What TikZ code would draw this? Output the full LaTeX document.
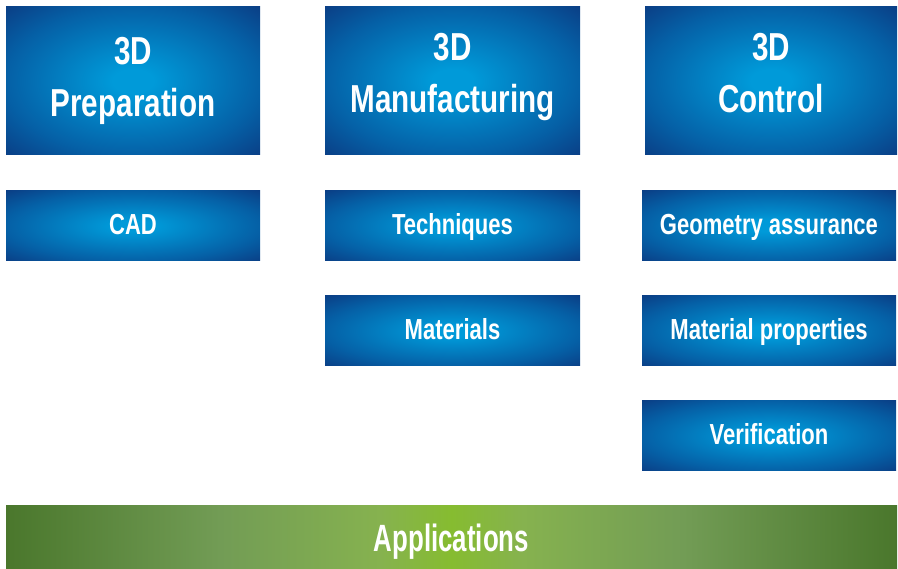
\documentclass[tikz,border=0pt]{standalone}
\usepackage{fontspec}
\setmainfont{Liberation Sans}[FakeStretch=0.76]
\newfontfamily\appfont{Liberation Sans}[FakeStretch=0.68]
\definecolor{bin}{HTML}{009AD9}
\definecolor{bmid}{HTML}{0560A6}
\definecolor{bout}{HTML}{0A3F86}
\definecolor{gedge}{HTML}{4A772C}
\definecolor{gq}{HTML}{729C55}
\definecolor{gm}{HTML}{86B24F}
\definecolor{gc}{HTML}{86BC30}
\pgfdeclareradialshading{boxshade}{\pgfpoint{0bp}{0bp}}{color(0bp)=(bin); color(4bp)=(bin); color(25bp)=(bmid); color(35.4bp)=(bout); color(50bp)=(bout)}
\pgfdeclarehorizontalshading{greenshade}{100bp}{color(0bp)=(gedge); color(25bp)=(gedge); color(37bp)=(gq); color(46bp)=(gm); color(50bp)=(gc); color(54bp)=(gm); color(63bp)=(gq); color(75bp)=(gedge); color(100bp)=(gedge)}
\tikzset{
  bluebox/.style={shading=boxshade, inner sep=0pt, text=white, align=center},
  bigbox/.style={bluebox, minimum width=254pt, minimum height=148pt, text height=64pt, text depth=0pt, font=\bfseries\fontsize{39}{52}\selectfont},
  smallbox/.style={bluebox, minimum width=254pt, minimum height=70pt, text height=17pt, text depth=0pt, font=\bfseries\fontsize{29}{34}\selectfont},
  greenbar/.style={shading=greenshade, inner sep=0pt, text=white, minimum width=891pt, minimum height=62pt, text height=28pt, text depth=0pt, font=\appfont\bfseries\fontsize{38}{42}\selectfont}
}
\begin{document}
\begin{tikzpicture}[x=1pt,y=-1pt]
\useasboundingbox (0,0) rectangle (898,569);
\node[bigbox, text height=72pt] (prep) at (133,81) {3D\\Preparation};
\node[bigbox, minimum width=255pt] (manu) at (452.5,81) {3D\\Manufacturing};
\node[bigbox, minimum width=252pt] (ctrl) at (771,81) {3D\\Control};
\node[smallbox] (cad) at (133,226) {CAD};
\node[smallbox, minimum width=255pt] (tech) at (452.5,226) {Techniques};
\node[smallbox, minimum width=255pt] (mat) at (452.5,331) {Materials};
\node[smallbox] (geo) at (769,226) {Geometry assurance};
\node[smallbox] (matp) at (769,331) {Material properties};
\node[smallbox] (ver) at (769,436) {Verification};
\node[greenbar] (app) at (451.5,537) {Applications};
\end{tikzpicture}
\end{document}
